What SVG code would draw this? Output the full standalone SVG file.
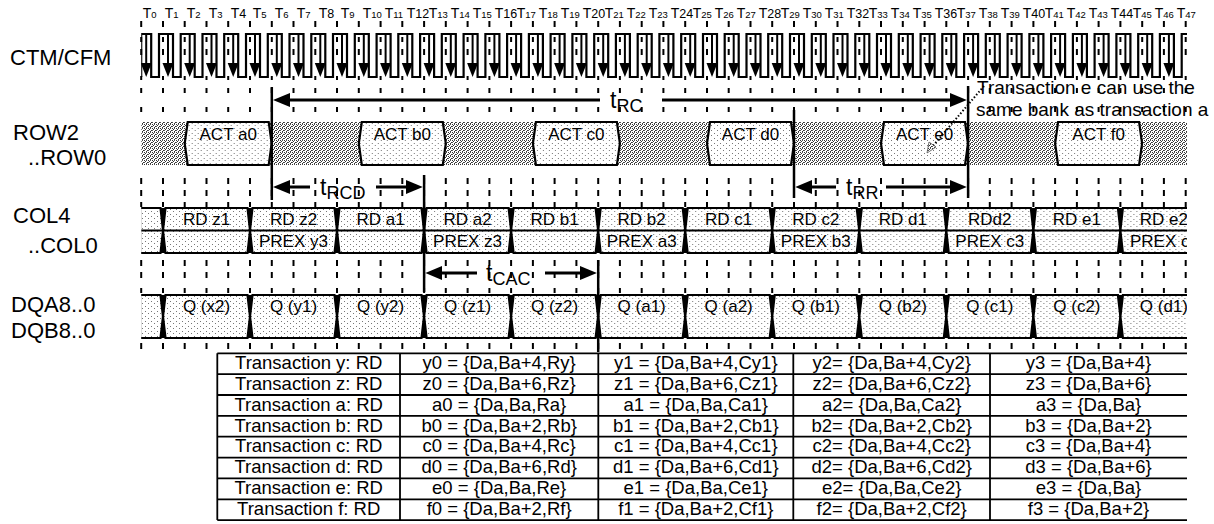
<svg xmlns="http://www.w3.org/2000/svg" width="1214" height="524" viewBox="0 0 1214 524">
<style>
text{font-family:"Liberation Sans",Arial,sans-serif;fill:#000}
.lbl{font-size:22px}
.tl{font-size:14px}
.ss{font-size:9.5px}
.sb{font-size:12.5px}
.bx{font-size:17px;text-anchor:middle}
.tb{font-size:18.5px;text-anchor:middle}
.an{font-size:19px}
.tt{font-size:23px}
.ts{font-size:18px}
.box{fill:url(#pl);stroke:#000;stroke-width:2.2}
.edge{fill:none;stroke:#000;stroke-width:2.2}
.ar{stroke:#000;stroke-width:3;fill:none}
.ah{fill:#000}
.vb{stroke:#000;stroke-width:2.5}
.tk{stroke:#000;stroke-width:2;fill:none}
.grid{stroke:#000;stroke-width:1.8;fill:none}
</style>
<defs>
<pattern id="pd" width="4" height="4" patternUnits="userSpaceOnUse"><rect width="4" height="4" fill="#fff"/><rect x="0" y="0" width="1" height="1" fill="#333"/><rect x="2" y="0" width="1" height="1" fill="#555"/><rect x="1" y="1" width="1" height="1" fill="#333"/><rect x="3" y="2" width="1" height="1" fill="#333"/><rect x="0" y="2" width="1" height="1" fill="#555"/><rect x="2" y="3" width="1" height="1" fill="#333"/></pattern>
<pattern id="pl" width="6" height="5" patternUnits="userSpaceOnUse"><rect width="6" height="5" fill="#fff"/><rect x="1" y="1" width="1" height="1" fill="#777"/><rect x="4" y="3" width="1" height="1" fill="#777"/></pattern>
<clipPath id="cl"><rect x="141.2" y="0" width="1045.8" height="524"/></clipPath>
<path id="tk" class="tk" d="M0 21v6M0 37v5M0 49v6M0 76v4M0 88v5M0 107v5M0 178v6M0 190v6M0 202v5M0 260v6M0 272v6M0 288v5M0 343v6"/>
<g id="ck"><line x1="0" y1="34" x2="0" y2="65" stroke="#000" stroke-width="2"/><polygon points="-5.5,63 5.5,63 0,77" fill="#000"/></g>
<polygon id="cb" class="box" points="2.5,0 84.5,0 87,22.5 84.5,45 2.5,45 0,22.5"/>
<polygon id="db" class="box" points="2.5,0 84.5,0 87,21.5 84.5,43 2.5,43 0,21.5"/>
<polygon id="ab" class="box" points="3,0 84,0 87,21.5 84,43 3,43 0,21.5"/>
</defs>

<g id="signal-labels">
<text class="lbl" x="10" y="65">CTM/CFM</text>
<text class="lbl" x="13" y="140">ROW2</text>
<text class="lbl" x="28" y="165">..ROW0</text>
<text class="lbl" x="13" y="223">COL4</text>
<text class="lbl" x="28" y="253">..COL0</text>
<text class="lbl" x="11" y="312">DQA8..0</text>
<text class="lbl" x="11" y="338">DQB8..0</text>
</g>

<g id="time-labels">
<text class="tl" x="142.7" y="18">T<tspan class="ss">0</tspan></text>
<text class="tl" x="164.7" y="18">T<tspan class="ss">1</tspan></text>
<text class="tl" x="186.7" y="18">T<tspan class="ss">2</tspan></text>
<text class="tl" x="208.7" y="18">T<tspan class="ss">3</tspan></text>
<text class="tl" x="230.7" y="18">T<tspan class="sb">4</tspan></text>
<text class="tl" x="252.7" y="18">T<tspan class="ss">5</tspan></text>
<text class="tl" x="274.7" y="18">T<tspan class="ss">6</tspan></text>
<text class="tl" x="296.7" y="18">T<tspan class="ss">7</tspan></text>
<text class="tl" x="318.7" y="18">T<tspan class="sb">8</tspan></text>
<text class="tl" x="340.7" y="18">T<tspan class="ss">9</tspan></text>
<text class="tl" x="362.7" y="18">T<tspan class="ss">10</tspan></text>
<text class="tl" x="384.7" y="18">T<tspan class="ss">11</tspan></text>
<text class="tl" x="406.7" y="18">T<tspan class="sb">12</tspan></text>
<text class="tl" x="428.7" y="18">T<tspan class="ss">13</tspan></text>
<text class="tl" x="450.7" y="18">T<tspan class="ss">14</tspan></text>
<text class="tl" x="472.7" y="18">T<tspan class="ss">15</tspan></text>
<text class="tl" x="494.7" y="18">T<tspan class="sb">16</tspan></text>
<text class="tl" x="516.7" y="18">T<tspan class="ss">17</tspan></text>
<text class="tl" x="538.7" y="18">T<tspan class="ss">18</tspan></text>
<text class="tl" x="560.7" y="18">T<tspan class="ss">19</tspan></text>
<text class="tl" x="582.7" y="18">T<tspan class="sb">20</tspan></text>
<text class="tl" x="604.7" y="18">T<tspan class="ss">21</tspan></text>
<text class="tl" x="626.7" y="18">T<tspan class="ss">22</tspan></text>
<text class="tl" x="648.7" y="18">T<tspan class="ss">23</tspan></text>
<text class="tl" x="670.7" y="18">T<tspan class="sb">24</tspan></text>
<text class="tl" x="692.7" y="18">T<tspan class="ss">25</tspan></text>
<text class="tl" x="714.7" y="18">T<tspan class="ss">26</tspan></text>
<text class="tl" x="736.7" y="18">T<tspan class="ss">27</tspan></text>
<text class="tl" x="758.7" y="18">T<tspan class="sb">28</tspan></text>
<text class="tl" x="780.7" y="18">T<tspan class="ss">29</tspan></text>
<text class="tl" x="802.7" y="18">T<tspan class="ss">30</tspan></text>
<text class="tl" x="824.7" y="18">T<tspan class="ss">31</tspan></text>
<text class="tl" x="846.7" y="18">T<tspan class="sb">32</tspan></text>
<text class="tl" x="868.7" y="18">T<tspan class="ss">33</tspan></text>
<text class="tl" x="890.7" y="18">T<tspan class="ss">34</tspan></text>
<text class="tl" x="912.7" y="18">T<tspan class="ss">35</tspan></text>
<text class="tl" x="934.7" y="18">T<tspan class="sb">36</tspan></text>
<text class="tl" x="956.7" y="18">T<tspan class="ss">37</tspan></text>
<text class="tl" x="978.7" y="18">T<tspan class="ss">38</tspan></text>
<text class="tl" x="1000.7" y="18">T<tspan class="ss">39</tspan></text>
<text class="tl" x="1022.7" y="18">T<tspan class="sb">40</tspan></text>
<text class="tl" x="1044.7" y="18">T<tspan class="ss">41</tspan></text>
<text class="tl" x="1066.7" y="18">T<tspan class="ss">42</tspan></text>
<text class="tl" x="1088.7" y="18">T<tspan class="ss">43</tspan></text>
<text class="tl" x="1110.7" y="18">T<tspan class="sb">44</tspan></text>
<text class="tl" x="1132.7" y="18">T<tspan class="ss">45</tspan></text>
<text class="tl" x="1154.7" y="18">T<tspan class="ss">46</tspan></text>
<text class="tl" x="1176.7" y="18">T<tspan class="ss">47</tspan></text>
</g>

<g id="ticks">
<use href="#tk" x="141.2"/><use href="#tk" x="163"/><use href="#tk" x="184.7"/><use href="#tk" x="206.5"/><use href="#tk" x="228.2"/><use href="#tk" x="250"/><use href="#tk" x="271.8"/><use href="#tk" x="293.5"/><use href="#tk" x="315.3"/><use href="#tk" x="337"/><use href="#tk" x="358.8"/><use href="#tk" x="380.6"/><use href="#tk" x="402.3"/><use href="#tk" x="424.1"/><use href="#tk" x="445.8"/><use href="#tk" x="467.6"/><use href="#tk" x="489.4"/><use href="#tk" x="511.1"/><use href="#tk" x="532.9"/><use href="#tk" x="554.6"/><use href="#tk" x="576.4"/><use href="#tk" x="598.2"/><use href="#tk" x="619.9"/><use href="#tk" x="641.7"/><use href="#tk" x="663.4"/><use href="#tk" x="685.2"/><use href="#tk" x="707"/><use href="#tk" x="728.7"/><use href="#tk" x="750.5"/><use href="#tk" x="772.2"/><use href="#tk" x="794"/><use href="#tk" x="815.8"/><use href="#tk" x="837.5"/><use href="#tk" x="859.3"/><use href="#tk" x="881"/><use href="#tk" x="902.8"/><use href="#tk" x="924.6"/><use href="#tk" x="946.3"/><use href="#tk" x="968.1"/><use href="#tk" x="989.8"/><use href="#tk" x="1011.6"/><use href="#tk" x="1033.4"/><use href="#tk" x="1055.1"/><use href="#tk" x="1076.9"/><use href="#tk" x="1098.6"/><use href="#tk" x="1120.4"/><use href="#tk" x="1142.2"/><use href="#tk" x="1163.9"/><use href="#tk" x="1185.7"/>
</g>

<g id="clock" clip-path="url(#cl)">
<path class="edge" d="M141.2,77V34H151.2V77H159V34H173V77H180.7V34H194.7V77H202.5V34H216.5V77H224.2V34H238.2V77H246V34H260V77H267.8V34H281.8V77H289.5V34H303.5V77H311.3V34H325.3V77H333V34H347V77H354.8V34H368.8V77H376.6V34H390.6V77H398.3V34H412.3V77H420.1V34H434.1V77H441.8V34H455.8V77H463.6V34H477.6V77H485.4V34H499.4V77H507.1V34H521.1V77H528.9V34H542.9V77H550.6V34H564.6V77H572.4V34H586.4V77H594.2V34H608.2V77H615.9V34H629.9V77H637.7V34H651.7V77H659.4V34H673.4V77H681.2V34H695.2V77H703V34H717V77H724.7V34H738.7V77H746.5V34H760.5V77H768.2V34H782.2V77H790V34H804V77H811.8V34H825.8V77H833.5V34H847.5V77H855.3V34H869.3V77H877V34H891V77H898.8V34H912.8V77H920.6V34H934.6V77H942.3V34H956.3V77H964.1V34H978.1V77H985.8V34H999.8V77H1007.6V34H1021.6V77H1029.4V34H1043.4V77H1051.1V34H1065.1V77H1072.9V34H1086.9V77H1094.6V34H1108.6V77H1116.4V34H1130.4V77H1138.2V34H1152.2V77H1159.9V34H1173.9V77H1181.7V34H1187"/>
<use href="#ck" x="146.2"/><use href="#ck" x="168"/><use href="#ck" x="189.7"/><use href="#ck" x="211.5"/><use href="#ck" x="233.2"/><use href="#ck" x="255"/><use href="#ck" x="276.8"/><use href="#ck" x="298.5"/><use href="#ck" x="320.3"/><use href="#ck" x="342"/><use href="#ck" x="363.8"/><use href="#ck" x="385.6"/><use href="#ck" x="407.3"/><use href="#ck" x="429.1"/><use href="#ck" x="450.8"/><use href="#ck" x="472.6"/><use href="#ck" x="494.4"/><use href="#ck" x="516.1"/><use href="#ck" x="537.9"/><use href="#ck" x="559.6"/><use href="#ck" x="581.4"/><use href="#ck" x="603.2"/><use href="#ck" x="624.9"/><use href="#ck" x="646.7"/><use href="#ck" x="668.4"/><use href="#ck" x="690.2"/><use href="#ck" x="712"/><use href="#ck" x="733.7"/><use href="#ck" x="755.5"/><use href="#ck" x="777.2"/><use href="#ck" x="799"/><use href="#ck" x="820.8"/><use href="#ck" x="842.5"/><use href="#ck" x="864.3"/><use href="#ck" x="886"/><use href="#ck" x="907.8"/><use href="#ck" x="929.6"/><use href="#ck" x="951.3"/><use href="#ck" x="973.1"/><use href="#ck" x="994.8"/><use href="#ck" x="1016.6"/><use href="#ck" x="1038.4"/><use href="#ck" x="1060.1"/><use href="#ck" x="1081.9"/><use href="#ck" x="1103.6"/><use href="#ck" x="1125.4"/><use href="#ck" x="1147.2"/><use href="#ck" x="1168.9"/>
</g>

<g id="row-bus" clip-path="url(#cl)">
<rect id="row-idle" x="141.2" y="122" width="1046" height="43" fill="url(#pd)"/>
<g id="act-a0"><use href="#ab" x="184.7" y="122"/><text class="bx" x="228.2" y="140">ACT a0</text></g>
<g id="act-b0"><use href="#ab" x="358.8" y="122"/><text class="bx" x="402.3" y="140">ACT b0</text></g>
<g id="act-c0"><use href="#ab" x="532.9" y="122"/><text class="bx" x="576.4" y="140">ACT c0</text></g>
<g id="act-d0"><use href="#ab" x="707" y="122"/><text class="bx" x="750.5" y="140">ACT d0</text></g>
<g id="act-e0"><use href="#ab" x="881" y="122"/><text class="bx" x="924.6" y="140">ACT e0</text></g>
<g id="act-f0"><use href="#ab" x="1055.1" y="122"/><text class="bx" x="1098.6" y="140">ACT f0</text></g>
</g>

<g id="col-bus" clip-path="url(#cl)">
<rect x="141.2" y="208" width="1046" height="45" fill="#000"/>
<polygon class="box" points="130,208 160.5,208 163,230.5 160.5,253 130,253"/>
<g id="col-z1"><use href="#cb" x="163" y="208"/><text class="bx" x="206.5" y="225">RD z1</text></g>
<g id="col-z2"><use href="#cb" x="250" y="208"/><text class="bx" x="293.5" y="225">RD z2</text><text class="bx" x="293.5" y="247">PREX y3</text></g>
<g id="col-a1"><use href="#cb" x="337" y="208"/><text class="bx" x="380.6" y="225">RD a1</text></g>
<g id="col-a2"><use href="#cb" x="424.1" y="208"/><text class="bx" x="467.6" y="225">RD a2</text><text class="bx" x="467.6" y="247">PREX z3</text></g>
<g id="col-b1"><use href="#cb" x="511.1" y="208"/><text class="bx" x="554.6" y="225">RD b1</text></g>
<g id="col-b2"><use href="#cb" x="598.2" y="208"/><text class="bx" x="641.7" y="225">RD b2</text><text class="bx" x="641.7" y="247">PREX a3</text></g>
<g id="col-c1"><use href="#cb" x="685.2" y="208"/><text class="bx" x="728.7" y="225">RD c1</text></g>
<g id="col-c2"><use href="#cb" x="772.2" y="208"/><text class="bx" x="815.8" y="225">RD c2</text><text class="bx" x="815.8" y="247">PREX b3</text></g>
<g id="col-d1"><use href="#cb" x="859.3" y="208"/><text class="bx" x="902.8" y="225">RD d1</text></g>
<g id="col-d2"><use href="#cb" x="946.3" y="208"/><text class="bx" x="989.8" y="225">RDd2</text><text class="bx" x="989.8" y="247">PREX c3</text></g>
<g id="col-e1"><use href="#cb" x="1033.4" y="208"/><text class="bx" x="1076.9" y="225">RD e1</text></g>
<g id="col-e2"><use href="#cb" x="1120.4" y="208"/><text class="bx" x="1163.9" y="225">RD e2</text><text class="bx" x="1130" y="247" style="text-anchor:start">PREX c</text></g>
<line x1="141.2" y1="230.5" x2="1187" y2="230.5" stroke="#000" stroke-width="2.2"/>
</g>

<g id="dq-bus" clip-path="url(#cl)">
<rect x="141.2" y="295" width="1046" height="43" fill="#000"/>
<polygon class="box" points="130,295 160.5,295 163,316.5 160.5,338 130,338"/>
<g id="dq-x2"><use href="#db" x="163" y="295"/><text class="bx" x="206.5" y="312">Q (x2)</text></g>
<g id="dq-y1"><use href="#db" x="250" y="295"/><text class="bx" x="293.5" y="312">Q (y1)</text></g>
<g id="dq-y2"><use href="#db" x="337" y="295"/><text class="bx" x="380.6" y="312">Q (y2)</text></g>
<g id="dq-z1"><use href="#db" x="424.1" y="295"/><text class="bx" x="467.6" y="312">Q (z1)</text></g>
<g id="dq-z2"><use href="#db" x="511.1" y="295"/><text class="bx" x="554.6" y="312">Q (z2)</text></g>
<g id="dq-a1"><use href="#db" x="598.2" y="295"/><text class="bx" x="641.7" y="312">Q (a1)</text></g>
<g id="dq-a2"><use href="#db" x="685.2" y="295"/><text class="bx" x="728.7" y="312">Q (a2)</text></g>
<g id="dq-b1"><use href="#db" x="772.2" y="295"/><text class="bx" x="815.8" y="312">Q (b1)</text></g>
<g id="dq-b2"><use href="#db" x="859.3" y="295"/><text class="bx" x="902.8" y="312">Q (b2)</text></g>
<g id="dq-c1"><use href="#db" x="946.3" y="295"/><text class="bx" x="989.8" y="312">Q (c1)</text></g>
<g id="dq-c2"><use href="#db" x="1033.4" y="295"/><text class="bx" x="1076.9" y="312">Q (c2)</text></g>
<g id="dq-d1"><use href="#db" x="1120.4" y="295"/><text class="bx" x="1163.9" y="312">Q (d1)</text></g>
</g>

<g id="connectors">
<line class="vb" x1="271.8" y1="87" x2="271.8" y2="200"/>
<line class="vb" x1="968.1" y1="86" x2="968.1" y2="198"/>
<line class="vb" x1="794" y1="110" x2="794" y2="198"/>
<line class="vb" x1="424.1" y1="175" x2="424.1" y2="292"/>
<line class="vb" x1="598.2" y1="260" x2="598.2" y2="352"/>
<path class="ar" d="M288,100H600M662,100H952"/>
<polygon class="ah" points="273,100 290,93 290,107"/>
<polygon class="ah" points="966.8,100 950,93 950,107"/>
<path class="ar" d="M288,187H310M376,187H408"/>
<polygon class="ah" points="273,187 290,180 290,194"/>
<polygon class="ah" points="422.8,187 406,180 406,194"/>
<path class="ar" d="M810,187H836M886,187H952"/>
<polygon class="ah" points="795.3,187 812,180 812,194"/>
<polygon class="ah" points="966.8,187 950,180 950,194"/>
<path class="ar" d="M440,273H477M545,273H582"/>
<polygon class="ah" points="425.4,273 442,266 442,280"/>
<polygon class="ah" points="596.9,273 580,266 580,280"/>
<line x1="984" y1="86" x2="932" y2="147" stroke="#000" stroke-width="2" stroke-dasharray="1.5 2"/>
<polygon points="927,153 929,142 936,147" fill="url(#pd)" stroke="#555" stroke-width="0.8"/>
</g>

<g id="timing-labels">
<text class="tt" x="610" y="108">t<tspan class="ts" dy="3.5">RC</tspan></text>
<text class="tt" x="320" y="195">t<tspan class="ts" dy="3.5">RCD</tspan></text>
<text class="tt" x="846" y="195">t<tspan class="ts" dy="3.5">RR</tspan></text>
<text class="tt" x="486" y="281">t<tspan class="ts" dy="3.5">CAC</tspan></text>
</g>

<g id="note">
<text class="an" x="977" y="94">Transaction e can use the</text>
<text class="an" x="976" y="115.5">same bank as transaction a</text>
</g>

<g id="table">
<path class="grid" d="M217.3,353.3H1187M217.3,374.2H1187M217.3,395H1187M217.3,415.9H1187M217.3,436.7H1187M217.3,457.6H1187M217.3,478.4H1187M217.3,499.3H1187M217.3,520.1H1187M217.3,353.3V520.1M400,353.3V520.1M598.3,353.3V520.1M793.3,353.3V520.1M990,353.3V520.1"/>
<g id="row-y"><text class="tb" x="308.7" y="369">Transaction y: RD</text><text class="tb" x="499.2" y="369">y0 = {Da,Ba+4,Ry}</text><text class="tb" x="695.8" y="369">y1 = {Da,Ba+4,Cy1}</text><text class="tb" x="891.7" y="369">y2= {Da,Ba+4,Cy2}</text><text class="tb" x="1088.5" y="369">y3 = {Da,Ba+4}</text></g>
<g id="row-z"><text class="tb" x="308.7" y="389.8">Transaction z: RD</text><text class="tb" x="499.2" y="389.8">z0 = {Da,Ba+6,Rz}</text><text class="tb" x="695.8" y="389.8">z1 = {Da,Ba+6,Cz1}</text><text class="tb" x="891.7" y="389.8">z2= {Da,Ba+6,Cz2}</text><text class="tb" x="1088.5" y="389.8">z3 = {Da,Ba+6}</text></g>
<g id="row-a"><text class="tb" x="308.7" y="410.7">Transaction a: RD</text><text class="tb" x="499.2" y="410.7">a0 = {Da,Ba,Ra}</text><text class="tb" x="695.8" y="410.7">a1 = {Da,Ba,Ca1}</text><text class="tb" x="891.7" y="410.7">a2= {Da,Ba,Ca2}</text><text class="tb" x="1088.5" y="410.7">a3 = {Da,Ba}</text></g>
<g id="row-b"><text class="tb" x="308.7" y="431.5">Transaction b: RD</text><text class="tb" x="499.2" y="431.5">b0 = {Da,Ba+2,Rb}</text><text class="tb" x="695.8" y="431.5">b1 = {Da,Ba+2,Cb1}</text><text class="tb" x="891.7" y="431.5">b2= {Da,Ba+2,Cb2}</text><text class="tb" x="1088.5" y="431.5">b3 = {Da,Ba+2}</text></g>
<g id="row-c"><text class="tb" x="308.7" y="452.4">Transaction c: RD</text><text class="tb" x="499.2" y="452.4">c0 = {Da,Ba+4,Rc}</text><text class="tb" x="695.8" y="452.4">c1 = {Da,Ba+4,Cc1}</text><text class="tb" x="891.7" y="452.4">c2= {Da,Ba+4,Cc2}</text><text class="tb" x="1088.5" y="452.4">c3 = {Da,Ba+4}</text></g>
<g id="row-d"><text class="tb" x="308.7" y="473.2">Transaction d: RD</text><text class="tb" x="499.2" y="473.2">d0 = {Da,Ba+6,Rd}</text><text class="tb" x="695.8" y="473.2">d1 = {Da,Ba+6,Cd1}</text><text class="tb" x="891.7" y="473.2">d2= {Da,Ba+6,Cd2}</text><text class="tb" x="1088.5" y="473.2">d3 = {Da,Ba+6}</text></g>
<g id="row-e"><text class="tb" x="308.7" y="494.1">Transaction e: RD</text><text class="tb" x="499.2" y="494.1">e0 = {Da,Ba,Re}</text><text class="tb" x="695.8" y="494.1">e1 = {Da,Ba,Ce1}</text><text class="tb" x="891.7" y="494.1">e2= {Da,Ba,Ce2}</text><text class="tb" x="1088.5" y="494.1">e3 = {Da,Ba}</text></g>
<g id="row-f"><text class="tb" x="308.7" y="514.9">Transaction f: RD</text><text class="tb" x="499.2" y="514.9">f0 = {Da,Ba+2,Rf}</text><text class="tb" x="695.8" y="514.9">f1 = {Da,Ba+2,Cf1}</text><text class="tb" x="891.7" y="514.9">f2= {Da,Ba+2,Cf2}</text><text class="tb" x="1088.5" y="514.9">f3 = {Da,Ba+2}</text></g>
</g>
</svg>
